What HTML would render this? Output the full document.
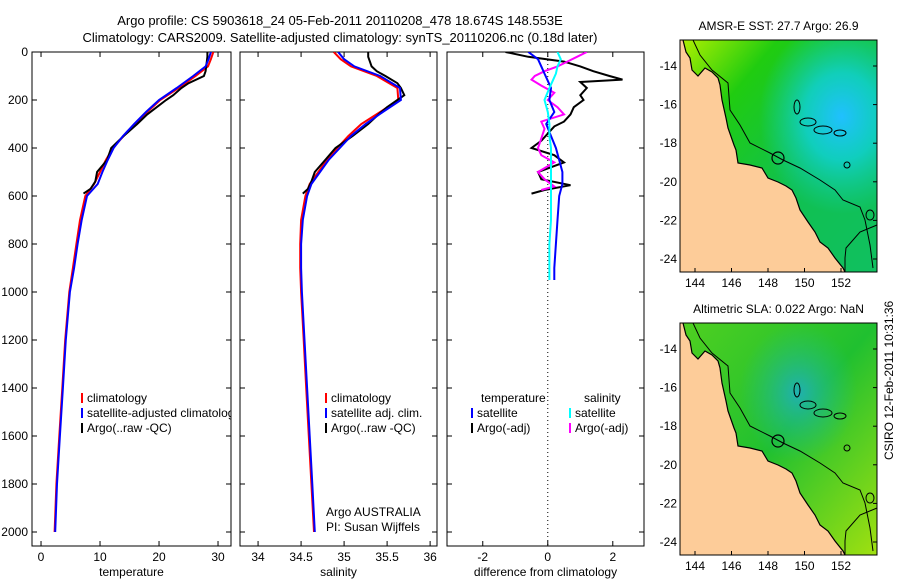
<!DOCTYPE html>
<html><head><meta charset="utf-8"><style>
body{margin:0;background:#fff}
svg{display:block;font-family:"Liberation Sans",sans-serif}
</style></head><body>
<svg id="fig" width="900" height="580" viewBox="0 0 900 580">
<text x="340" y="25" font-size="13" text-anchor="middle">Argo profile: CS 5903618_24 05-Feb-2011 20110208_478 18.674S 148.553E</text>
<text x="340" y="42" font-size="13" text-anchor="middle">Climatology: CARS2009. Satellite-adjusted climatology: synTS_20110206.nc (0.18d later)</text>
<defs>
<clipPath id="c1"><rect x="32" y="52" width="199" height="494"/></clipPath>
<clipPath id="c2"><rect x="240" y="52" width="197" height="494"/></clipPath>
<clipPath id="c3"><rect x="447" y="52" width="197" height="494"/></clipPath>
<linearGradient id="sea1" x1="0" y1="0" x2="1" y2="1">
<stop offset="0" stop-color="#b0f000"/><stop offset="0.25" stop-color="#20cc10"/><stop offset="0.6" stop-color="#10c050"/><stop offset="1" stop-color="#10c060"/></linearGradient>
<radialGradient id="cy1" cx="0.82" cy="0.33" r="0.42"><stop offset="0" stop-color="#20c0ff"/><stop offset="0.45" stop-color="#10d0d0" stop-opacity="0.85"/><stop offset="1" stop-color="#10d0b0" stop-opacity="0"/></radialGradient>
<linearGradient id="sea2" x1="0" y1="0" x2="1" y2="1">
<stop offset="0" stop-color="#50d020"/><stop offset="0.5" stop-color="#20c030"/><stop offset="1" stop-color="#a0e010"/></linearGradient>
<radialGradient id="cy2" cx="0.6" cy="0.3" r="0.3"><stop offset="0" stop-color="#20b0b0"/><stop offset="1" stop-color="#20c080" stop-opacity="0"/></radialGradient>
</defs>
<g id="panels"></g>
<g id="maps"></g>
<text transform="translate(893,460) rotate(-90)" font-size="12">CSIRO 12-Feb-2011 10:31:36</text>
</svg>
<script>
// ---- data ----
const depthTicks=[0,200,400,600,800,1000,1200,1400,1600,1800,2000];
const tempTicks=[0,10,20,30];
const salTicks=[34,34.5,35,35.5,36];
const salTickLabels=["34","34.5","35","35.5","36"];
const diffTicks=[-2,0,2];
const climDepth=[0,30,60,100,150,200,250,300,350,400,450,500,550,600,700,800,900,1000,1200,1400,1600,1800,2000];
const climTemp=[29.2,28.8,28.3,26.2,23.3,20.2,18,16,14,12.2,11,10,9,7.5,6.6,6,5.4,4.8,4.1,3.6,3.1,2.6,2.3];
const satTemp=[28.8,28.4,27.9,25.8,23,20,17.8,15.8,13.9,12.3,11.3,10.4,9.6,7.8,6.9,6.2,5.6,4.9,4.2,3.7,3.2,2.7,2.4];
const climSal=[34.88,34.96,35.08,35.38,35.62,35.63,35.42,35.2,35.05,34.92,34.8,34.7,34.6,34.55,34.5,34.49,34.49,34.5,34.53,34.56,34.59,34.62,34.65];
const satSal=[34.93,35.0,35.12,35.42,35.65,35.66,35.45,35.25,35.08,34.95,34.82,34.72,34.62,34.57,34.52,34.5,34.5,34.51,34.54,34.57,34.6,34.63,34.66];
const argoDepth=[0,20,40,60,80,100,130,150,180,200,230,260,300,350,400,450,500,540,570,590];
const argoTemp=[28.2,28.2,28.1,28,27.9,27.6,25,23.8,22.4,21.2,19.6,18,16.3,14,11.9,11.2,9.5,9.2,8.4,7.2];
const argoSal=[35.28,35.28,35.3,35.32,35.38,35.48,35.62,35.66,35.7,35.62,35.5,35.4,35.28,35.1,34.9,34.78,34.66,34.62,34.58,34.52];
const dTempDepth=[0,20,40,60,80,100,115,125,150,180,200,230,260,290,310,340,370,400,430,460,500,530,555,575,590];
const dTempArgo=[-1.3,-0.6,0.5,1.0,1.4,1.9,2.3,1.0,1.2,1.0,1.1,0.8,0.7,0.5,0.2,0.0,-0.2,-0.5,0.2,0.5,-0.3,-0.2,0.7,-0.1,-0.5];
const dSatDepth=[0,30,60,90,120,150,200,250,300,350,400,450,500,550,600,700,800,900,950];
const dTempSat=[-0.6,-0.3,-0.2,-0.1,0.0,0.1,0.05,0.2,-0.05,0.1,0.25,0.35,0.45,0.45,0.35,0.3,0.25,0.2,0.2];
const dSalSat=[0.3,0.4,0.3,0.25,0.15,0.05,-0.1,0.0,0.05,0.05,0.1,0.1,0.1,0.1,0.1,0.1,0.05,0.05,0.05];
const dSalArgoDepth=[0,20,40,60,80,100,115,140,170,200,230,260,290,320,360,400,430,460,500,530,560,575];
const dSalArgo=[1.2,0.9,0.6,0.3,-0.1,-0.4,-0.5,-0.2,0.2,0.0,0.3,0.5,-0.2,-0.1,-0.2,-0.3,-0.2,0.2,-0.3,-0.1,0.2,-0.2];
// ---- helpers ----
const NS="http://www.w3.org/2000/svg";
function mk(tag,attrs,parent,txt){const e=document.createElementNS(NS,tag);for(const k in attrs)e.setAttribute(k,attrs[k]);if(txt!==undefined)e.textContent=txt;parent.appendChild(e);return e;}
const Y0=52,Y1=546;
const yS=d=>Y0+d*0.24;
function xScale(x0,x1,v0,v1){return v=>x0+(v-v0)*(x1-x0)/(v1-v0);}
const panels=[
 {x0:32,x1:231,v0:-1.53,v1:32.2,ticks:tempTicks,labels:tempTicks.map(String),title:"temperature",clip:"c1",name:"temperature-panel"},
 {x0:240,x1:437,v0:33.79,v1:36.08,ticks:salTicks,labels:salTickLabels,title:"salinity",clip:"c2",name:"salinity-panel"},
 {x0:447,x1:644,v0:-3.1,v1:2.96,ticks:diffTicks,labels:diffTicks.map(String),title:"difference from climatology",clip:"c3",name:"difference-panel"}];
const G=document.getElementById('panels');
panels.forEach((p,i)=>{
 p.xs=xScale(p.x0,p.x1,p.v0,p.v1);
 const g=mk('g',{},G);
 
 
 const fr=mk('rect',{x:p.x0,y:Y0,width:p.x1-p.x0,height:Y1-Y0,fill:'#fff',stroke:'#000','stroke-width':1},g);
 
 
 p.ticks.forEach((t,k)=>{const x=p.xs(t);
  mk('line',{x1:x,x2:x,y1:Y1,y2:Y1-5,stroke:'#000'},g);
  mk('line',{x1:x,x2:x,y1:Y0,y2:Y0+5,stroke:'#000'},g);
  const tl=mk('text',{x:x,y:Y1+15,'font-size':12,'text-anchor':'middle'},g,p.labels[k]);
  
  });
 depthTicks.forEach(d=>{const y=yS(d);
  mk('line',{x1:p.x0,x2:p.x0+5,y1:y,y2:y,stroke:'#000'},g);
  mk('line',{x1:p.x1,x2:p.x1-5,y1:y,y2:y,stroke:'#000'},g);
  if(i===0){const tl=mk('text',{x:p.x0-4,y:y+4,'font-size':12,'text-anchor':'end'},g,String(d));
   
   }});
 const at=mk('text',{x:(p.x0+p.x1)/2,y:576,'font-size':12,'text-anchor':'middle'},g,p.title);
 
 
 p.g=mk('g',{'clip-path':'url(#'+p.clip+')'},g);
});
function line(p,vals,deps,color,name,w){
 const pts=vals.map((v,k)=>p.xs(v).toFixed(1)+','+yS(deps[k]).toFixed(1)).join(' ');
 const l=mk('polyline',{points:pts,fill:'none',stroke:color,'stroke-width':w||2},p.g);
 
 
}
const [P1,P2,P3]=panels;
line(P1,climTemp,climDepth,'#f00','clim-temp-line');
line(P1,argoTemp,argoDepth,'#000','argo-temp-line');
line(P1,satTemp,climDepth,'#00f','sat-temp-line');
line(P2,climSal,climDepth,'#f00','clim-sal-line');
line(P2,argoSal,argoDepth,'#000','argo-sal-line');
line(P2,satSal,climDepth,'#00f','sat-sal-line');
const zl=mk('line',{x1:P3.xs(0),x2:P3.xs(0),y1:Y0,y2:Y1,stroke:'#000','stroke-dasharray':'1,3'},P3.g);


line(P3,dTempArgo,dTempDepth,'#000','argo-temp-diff-line');
line(P3,dSalArgo,dSalArgoDepth,'#f0f','argo-sal-diff-line');
line(P3,dTempSat,dSatDepth,'#00f','sat-temp-diff-line');
line(P3,dSalSat,dSatDepth,'#0ff','sat-sal-diff-line');
// legends
function leg(g,x,y,color,text){
 if(color)mk('line',{x1:x,x2:x,y1:y-9,y2:y+1,stroke:color,'stroke-width':2},g);
 const t=mk('text',{x:x+5,y:y,'font-size':12},g,text);
 
 
}
leg(P1.g,82,402,'#f00','climatology');
leg(P1.g,82,417,'#00f','satellite-adjusted climatology');
leg(P1.g,82,432,'#000','Argo(..raw -QC)');
leg(P2.g,326,402,'#f00','climatology');
leg(P2.g,326,417,'#00f','satellite adj. clim.');
leg(P2.g,326,432,'#000','Argo(..raw -QC)');
leg(P3.g,476,402,null,'temperature');
leg(P3.g,579,402,null,'salinity');
leg(P3.g,472,417,'#00f','satellite');
leg(P3.g,570,417,'#0ff','satellite');
leg(P3.g,472,432,'#000','Argo(-adj)');
leg(P3.g,570,432,'#f0f','Argo(-adj)');
const a1=mk('text',{x:326,y:516,'font-size':12},P2.g,'Argo AUSTRALIA');


const a2=mk('text',{x:326,y:531,'font-size':12},P2.g,'PI: Susan Wijffels');


// ---- maps (coordinates relative to top map, y0=40) ----
const lonTicks=[144,146,148,150,152];
const latTicks=[14,16,18,20,22,24];
const M=document.getElementById('maps');
const coast=[[683,40],[686,52],[690,58],[692,70],[698,76],[705,68],[712,72],[718,78],[720,85],[722,100],[726,118],[728,128],[734,145],[736,150],[738,163],[750,165],[762,168],[768,178],[778,182],[786,186],[792,190],[796,198],[800,210],[808,222],[815,232],[820,242],[828,248],[835,258],[843,268],[845,272]];
const contour=[[693,40],[700,55],[712,70],[728,83],[730,110],[740,125],[750,143],[770,153],[783,160],[800,168],[820,180],[835,190],[843,200],[860,207],[865,220],[870,245],[873,268]];
const contour2=[[845,272],[845,258],[846,248],[860,232],[877,225]];
const islands=[[797,107,3,7],[808,122,8,4],[823,130,9,4],[840,133,6,3],[847,165,3,3],[870,215,4,5]];
function drawMap(oy,title,sea,cy,name){
 const g=mk('g',{},M);
 
 
 const x0=680,x1=877,y0=oy,y1=oy+232,dy=oy-40;
 mk('rect',{x:x0,y:y0,width:x1-x0,height:y1-y0,fill:'url(#'+sea+')'},g);
 mk('rect',{x:x0,y:y0,width:x1-x0,height:y1-y0,fill:'url(#'+cy+')'},g);
 let pts=coast.map(c=>c[0]+','+(c[1]+dy)).join(' ');
 pts+=' '+x0+','+y1+' '+x0+','+y0;
 const land=mk('polygon',{points:pts,fill:'#fdcc99',stroke:'none'},g);
 
 
 mk('polyline',{points:coast.map(c=>c[0]+','+(c[1]+dy)).join(' '),fill:'none',stroke:'#000','stroke-width':1.2},g);
 mk('polyline',{points:contour.map(c=>c[0]+','+(c[1]+dy)).join(' '),fill:'none',stroke:'#000','stroke-width':1},g);
 mk('polyline',{points:contour2.map(c=>c[0]+','+(c[1]+dy)).join(' '),fill:'none',stroke:'#000','stroke-width':1},g);
 islands.forEach(r=>
  mk('ellipse',{cx:r[0],cy:r[1]+dy,rx:r[2],ry:r[3],fill:'none',stroke:'#000'},g));
 const ci=mk('circle',{cx:778,cy:158+dy,r:6,fill:'none',stroke:'#000','stroke-width':1.2},g);
 
 
 mk('rect',{x:x0,y:y0,width:x1-x0,height:y1-y0,fill:'none',stroke:'#000'},g);
 const lx=v=>695+(v-144)*18.25, ly=v=>y0+26+(v-14)*19.3;
 lonTicks.forEach(v=>{const x=lx(v);
  mk('line',{x1:x,x2:x,y1:y1,y2:y1-4,stroke:'#000'},g);
  const t=mk('text',{x:x,y:y1+15,'font-size':12,'text-anchor':'middle'},g,String(v));
  
  });
 latTicks.forEach(v=>{const y=ly(v);
  mk('line',{x1:x1,x2:x1-4,y1:y,y2:y,stroke:'#000'},g);
  const t=mk('text',{x:x0-3,y:y+4,'font-size':12,'text-anchor':'end'},g,'-'+v);
  
  });
 const tt=mk('text',{x:(x0+x1)/2,y:y0-10,'font-size':12,'text-anchor':'middle'},g,title);
 
 
}
drawMap(40,'AMSR-E SST: 27.7 Argo: 26.9','sea1','cy1','sst-map');
drawMap(323,'Altimetric SLA: 0.022 Argo: NaN','sea2','cy2','sla-map');
</script>
</body></html>
